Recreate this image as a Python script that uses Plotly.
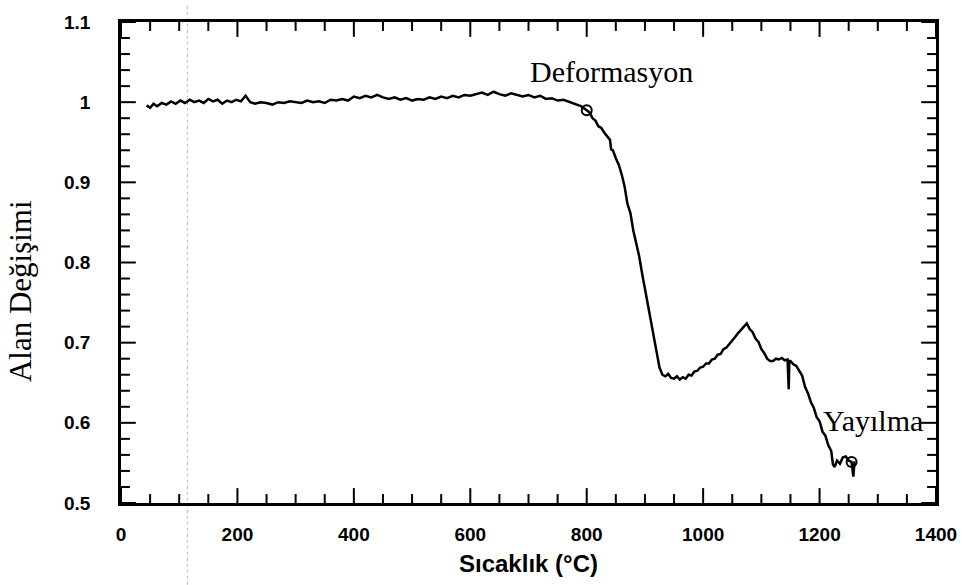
import plotly.graph_objects as go

# Temperature (°C) and area change
temp = [44, 50, 56, 62, 70, 78, 86, 94, 102, 110, 118, 126, 134, 142, 150, 158, 166, 174,
        182, 190, 198, 206, 214, 222, 230, 240, 250, 260, 270, 280, 290, 300, 310, 320,
        330, 340, 350, 360, 370, 380, 390, 400, 410, 420, 430, 440, 450, 460, 470, 480,
        490, 500, 510, 520, 530, 540, 550, 560, 570, 580, 590, 600, 610, 620, 630, 640,
        650, 660, 670, 680, 690, 700, 710, 720, 730, 740, 750, 760, 770, 780, 790, 800,
        805, 810, 815, 820, 825, 830, 835, 840, 842, 845, 850, 855, 860, 865, 870, 875,
        880, 885, 890, 895, 900, 905, 910, 915, 920, 925, 930, 935, 940, 945, 950, 955,
        960, 965, 970, 975, 980, 985, 990, 995, 1000, 1005, 1010, 1015, 1020, 1025, 1030,
        1035, 1040, 1045, 1050, 1055, 1060, 1065, 1070, 1075, 1080, 1085, 1090, 1095, 1100,
        1105, 1110, 1115, 1120, 1125, 1130, 1135, 1140, 1145, 1147, 1148, 1150, 1155, 1160,
        1165, 1170, 1175, 1180, 1185, 1190, 1195, 1200, 1205, 1210, 1215, 1220, 1223, 1226,
        1230, 1235, 1240, 1245, 1250, 1255, 1258, 1260]
area = [0.996, 0.993, 0.998, 0.995, 0.999, 0.997, 1.001, 0.998, 1.002, 0.999, 1.003, 1.000,
        1.002, 0.999, 1.004, 1.001, 1.003, 0.998, 1.002, 1.000, 1.003, 1.001, 1.008, 1.000,
        0.998, 1.000, 0.999, 0.997, 1.000, 0.999, 1.001, 1.000, 0.999, 1.002, 1.000, 1.001,
        0.999, 1.003, 1.002, 1.004, 1.002, 1.007, 1.005, 1.008, 1.006, 1.009, 1.006, 1.004,
        1.006, 1.003, 1.005, 1.002, 1.004, 1.003, 1.006, 1.004, 1.007, 1.005, 1.008, 1.006,
        1.009, 1.008, 1.010, 1.012, 1.009, 1.013, 1.010, 1.008, 1.011, 1.009, 1.007, 1.009,
        1.006, 1.008, 1.004, 1.005, 1.002, 1.003, 1.000, 0.998, 0.995, 0.990,
        0.987, 0.980, 0.977, 0.970, 0.968, 0.962, 0.958, 0.953, 0.941, 0.940, 0.930, 0.922,
        0.910, 0.895, 0.873, 0.862, 0.840, 0.824, 0.808, 0.787, 0.767, 0.747, 0.724, 0.704,
        0.684, 0.669, 0.660, 0.658, 0.661, 0.656, 0.655, 0.658, 0.654, 0.657, 0.655, 0.660,
        0.659, 0.664, 0.665, 0.669, 0.670, 0.674, 0.674, 0.679, 0.680, 0.685, 0.686, 0.692,
        0.694, 0.698, 0.703, 0.707, 0.712, 0.716, 0.719, 0.724, 0.717, 0.713, 0.705, 0.701,
        0.692, 0.687, 0.680, 0.677, 0.677, 0.680, 0.679, 0.681, 0.678, 0.679, 0.642, 0.677,
        0.677, 0.673, 0.671, 0.664, 0.659, 0.645, 0.637, 0.626, 0.619, 0.607, 0.602, 0.589,
        0.584, 0.572, 0.565, 0.548, 0.545, 0.553, 0.549, 0.557, 0.558, 0.553, 0.551, 0.533,
        0.552]

# Marked points and labels
mark_temp = [800, 1255]
mark_area = [0.990, 0.551]
label_text = ["Deformasyon", "Yayılma"]
label_temp = [842, 1292]
label_area = [1.038, 0.603]

x_range = [0, 1400]
y_range = [0.5, 1.1]
x_tick_vals = [0, 200, 400, 600, 800, 1000, 1200, 1400]
x_minor_step = 50
y_tick_vals = [0.5, 0.6, 0.7, 0.8, 0.9, 1.0, 1.1]
y_tick_text = ["0.5", "0.6", "0.7", "0.8", "0.9", "1", "1.1"]
y_minor_step = 0.02

# layout geometry (pixels)
W, H = 969, 585
ML, MR, MT, MB = 121, 23, 18, 82
plot_w, plot_h = W - ML - MR, H - MT - MB
dx = (x_range[1] - x_range[0]) / plot_w   # data units per pixel
dy = (y_range[1] - y_range[0]) / plot_h
MAJOR_LEN, MINOR_LEN = 15, 9

x_minor = [x_range[0] + k * x_minor_step
           for k in range(int(round((x_range[1] - x_range[0]) / x_minor_step)) + 1)]
x_minor = [v for v in x_minor if v not in x_tick_vals]
n_y = int(round((y_range[1] - y_range[0]) / y_minor_step))
y_minor = [round(y_range[0] + k * y_minor_step, 4) for k in range(n_y + 1)]
y_minor = [v for v in y_minor if all(abs(v - t) > 1e-6 for t in y_tick_vals)]

# inside tick marks on all four sides, built from the tick lists
tx, ty = [], []
for vals, length in [(x_tick_vals, MAJOR_LEN), (x_minor, MINOR_LEN)]:
    for v in vals:
        tx += [v, v, None, v, v, None]
        ty += [y_range[0], y_range[0] + length * dy, None,
               y_range[1], y_range[1] - length * dy, None]
for vals, length in [(y_tick_vals, MAJOR_LEN), (y_minor, MINOR_LEN)]:
    for v in vals:
        tx += [x_range[0], x_range[0] + length * dx, None,
               x_range[1], x_range[1] - length * dx, None]
        ty += [v, v, None, v, v, None]

fig = go.Figure()
fig.add_trace(go.Scatter(x=tx, y=ty, mode="lines", line=dict(color="black", width=2),
                         hoverinfo="skip", showlegend=False))
fig.add_trace(go.Scatter(x=temp, y=area, mode="lines",
                         line=dict(color="black", width=2.5), showlegend=False))
fig.add_trace(go.Scatter(x=mark_temp, y=mark_area, mode="markers",
                         marker=dict(symbol="circle-open", size=10, color="black",
                                     line=dict(width=2)), showlegend=False))

for t, xv, yv in zip(label_text, label_temp, label_area):
    fig.add_annotation(x=xv, y=yv, text=t, showarrow=False,
                       font=dict(family="Liberation Serif", size=30, color="black"))

# y-axis title as rotated annotation
fig.add_annotation(xref="paper", yref="paper", x=-0.123, y=0.44, text="Alan Değişimi",
                   textangle=-90, showarrow=False, xanchor="center", yanchor="middle",
                   font=dict(family="Liberation Serif", size=31, color="black"))

# faint scan artifact line
fig.add_shape(type="line", xref="x", yref="paper", x0=114, x1=114, y0=-0.17, y1=1.04,
              line=dict(color="#bbbbbb", width=1, dash="dot"), layer="below")

tickfont = dict(family="Liberation Sans", size=19, color="black", weight="bold")

fig.update_layout(
    xaxis=dict(range=x_range, tickmode="array", tickvals=x_tick_vals,
               showgrid=False, zeroline=False,
               showline=True, linecolor="black", linewidth=2.5, mirror=True,
               ticks="outside", ticklen=12, tickcolor="rgba(0,0,0,0)",
               tickfont=tickfont,
               title=dict(text="Sıcaklık (°C)", standoff=12,
                          font=dict(family="Liberation Sans", size=24, color="black",
                                    weight="bold"))),
    yaxis=dict(range=y_range, tickmode="array", tickvals=y_tick_vals, ticktext=y_tick_text,
               showgrid=False, zeroline=False,
               showline=True, linecolor="black", linewidth=2.5, mirror=True,
               ticks="outside", ticklen=24, tickcolor="rgba(0,0,0,0)",
               tickfont=tickfont),
    width=W, height=H, margin=dict(l=ML, r=MR, t=MT, b=MB),
    plot_bgcolor="white", paper_bgcolor="white")

fig.write_html("out.html")
